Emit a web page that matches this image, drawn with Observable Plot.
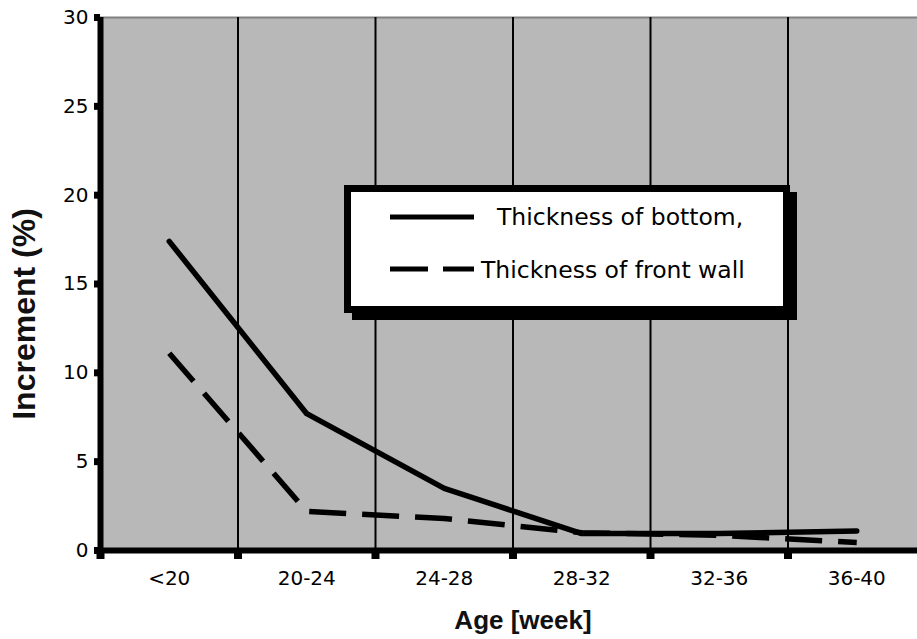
<!DOCTYPE html>
<html><head><meta charset="utf-8">
<script src="https://cdn.jsdelivr.net/npm/d3@7"></script>
<script src="https://cdn.jsdelivr.net/npm/@observablehq/plot@0.6"></script>
<style>
body{margin:0;background:#fff}
#wrap{position:relative;width:917px;height:639px;overflow:hidden}
#overlay{position:absolute;left:0;top:0;pointer-events:none}
</style>
</head><body>
<div id="wrap"></div>
<script>
// ---- data ----
const categories = ["<20", "20-24", "24-28", "28-32", "32-36", "36-40"];
const bottomThickness = [17.4, 7.7, 3.5, 0.95, 0.95, 1.1];
const frontWallThickness = [11.1, 2.2, 1.8, 1.0, 0.85, 0.45];
const yTicks = [0, 5, 10, 15, 20, 25, 30];
const seriesNames = ["Thickness of bottom,", "Thickness of front wall"];
const xTitle = "Age [week]";
const yTitle = "Increment (%)";

const rows = categories.map((c, i) => ({i: i + 0.5, c, bottom: bottomThickness[i], front: frontWallThickness[i]}));
const boundaries = d3.range(0, categories.length + 1);

const chart = Plot.plot({
  width: 917, height: 639,
  marginLeft: 100, marginRight: 0, marginTop: 17, marginBottom: 89,
  style: {fontFamily: "DejaVu Sans, sans-serif", fontSize: "20px", background: "white", color: "#000"},
  x: {type: "linear", domain: [0, categories.length], range: [100, 925]},
  y: {domain: [0, 30], range: [550, 17]},
  marks: [
    Plot.frame({fill: "#b8b8b8", stroke: "none"}),
    Plot.ruleY([30], {stroke: "#808080", strokeWidth: 2}),
    Plot.ruleX(boundaries.slice(1, -1), {stroke: "#000", strokeWidth: 2}),
    Plot.line(rows, {x: "i", y: "bottom", stroke: "#000", strokeWidth: 5.5}),
    Plot.line(rows, {x: "i", y: "front", stroke: "#000", strokeWidth: 5.5, strokeDasharray: "37,16", strokeLinecap: "butt"}),
    Plot.ruleY([0], {stroke: "#000", strokeWidth: 6}),
    Plot.ruleX([0], {stroke: "#000", strokeWidth: 6}),
    Plot.axisY({ticks: yTicks, tickSize: 6, tickPadding: 6, strokeWidth: 7, fontSize: 20, label: null, tickFormat: d => String(d)}),
    Plot.axisX({ticks: boundaries, tickSize: 9, strokeWidth: 8, tickFormat: () => "", label: null}),
    Plot.axisX({ticks: rows.map(d => d.i), tickSize: 0, tickPadding: 20, fontSize: 20, label: null,
      tickFormat: d => categories[Math.floor(d)]})
  ]
});
document.getElementById("wrap").appendChild(chart);

// ---- overlay: legend and axis titles ----
const ov = d3.select("#wrap").append("svg").attr("id", "overlay").attr("width", 917).attr("height", 639);

// legend box with shadow
ov.append("rect").attr("x", 352).attr("y", 192).attr("width", 445).attr("height", 128).attr("fill", "#000");
ov.append("rect").attr("x", 347.5).attr("y", 188.5).attr("width", 439).attr("height", 121).attr("fill", "#fff").attr("stroke", "#000").attr("stroke-width", 7);

ov.append("line").attr("x1", 390).attr("x2", 474).attr("y1", 217).attr("y2", 217).attr("stroke", "#000").attr("stroke-width", 5);
ov.append("line").attr("x1", 390).attr("x2", 474).attr("y1", 269).attr("y2", 269).attr("stroke", "#000").attr("stroke-width", 5).attr("stroke-dasharray", "38,15");
ov.append("text").attr("x", 497).attr("y", 217).attr("dy", "0.36em").attr("font-family", "DejaVu Sans, sans-serif").attr("font-size", 23.5).attr("fill", "#000").text(seriesNames[0]);
ov.append("text").attr("x", 481).attr("y", 270).attr("dy", "0.36em").attr("font-family", "DejaVu Sans, sans-serif").attr("font-size", 23.5).attr("fill", "#000").text(seriesNames[1]);

// axis titles
ov.append("text").attr("x", 523).attr("y", 629).attr("text-anchor", "middle").attr("font-family", "Liberation Sans, Arial, sans-serif").attr("font-weight", "bold").attr("font-size", 26).attr("fill", "#111").text(xTitle);
ov.append("text").attr("transform", "translate(35,314) rotate(-90)").attr("text-anchor", "middle").attr("font-family", "Liberation Sans, Arial, sans-serif").attr("font-weight", "bold").attr("font-size", 32).attr("fill", "#111").text(yTitle);
</script>
</body></html>
